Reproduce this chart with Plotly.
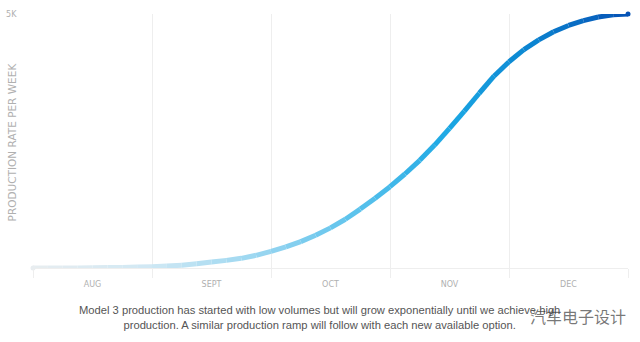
import plotly.graph_objects as go
from plotly.colors import sample_colorscale

# ---- data (months since start of August, weekly production rate) ----
month_pos = [0, 0.125, 0.25, 0.375, 0.5, 0.625, 0.75, 0.875,
             1, 1.125, 1.25, 1.375, 1.5, 1.625, 1.75, 1.875,
             2, 2.125, 2.25, 2.375, 2.5, 2.625, 2.75, 2.875,
             3, 3.125, 3.25, 3.375, 3.5, 3.625, 3.75, 3.875,
             4, 4.125, 4.25, 4.375, 4.5, 4.625, 4.75, 4.875, 5]
rate = [0, 0, 0, 0, 4, 8, 12, 18,
        26, 37, 55, 83, 118, 150, 190, 250,
        329, 415, 520, 645, 790, 960, 1160, 1375,
        1600, 1850, 2120, 2420, 2750, 3090, 3440, 3780,
        4060, 4300, 4490, 4650, 4775, 4870, 4940, 4985, 5000]
month_labels = ["AUG", "SEPT", "OCT", "NOV", "DEC"]
month_centers = [0.5, 1.5, 2.5, 3.5, 4.5]
month_bounds = [0, 1, 2, 3, 4, 5]
y_tick_vals = [5000]
y_tick_text = ["5K"]

caption = ("Model 3 production has started with low volumes but will grow exponentially until we achieve high<br>"
           "production. A similar production ramp will follow with each new available option.")
watermark = "汽车电子设计"

scale = [[0.0, "#e8edf0"], [0.2, "#cfe8f4"], [0.4, "#93d4f0"], [0.55, "#58c1ec"],
         [0.7, "#1ca8e4"], [0.83, "#0b86d2"], [1.0, "#0652b5"]]

xmax = month_pos[-1]

fig = go.Figure()
for i in range(len(month_pos) - 1):
    c = sample_colorscale(scale, [(month_pos[i] + month_pos[i + 1]) / 2 / xmax])[0]
    fig.add_trace(go.Scatter(x=month_pos[i:i + 2], y=rate[i:i + 2], mode="lines",
                             line=dict(color=c, width=5), hoverinfo="skip",
                             showlegend=False, cliponaxis=False))
ends_x = [month_pos[0], month_pos[-1]]
ends_y = [rate[0], rate[-1]]
fig.add_trace(go.Scatter(x=ends_x, y=ends_y, mode="markers",
                         marker=dict(color=sample_colorscale(scale, [0.0, 1.0]), size=5,
                                     line=dict(width=0)),
                         showlegend=False, cliponaxis=False, hoverinfo="skip"))

fig.update_layout(
    width=640, height=342,
    margin=dict(l=33, r=12, t=14, b=74, autoexpand=False),
    paper_bgcolor="white", plot_bgcolor="white",
    font=dict(family="DejaVu Sans", color="#b0b0b0", size=8),
    xaxis=dict(range=[0, 5], tickvals=month_centers, ticktext=month_labels,
               showgrid=False, zeroline=False, showline=False, automargin=False,
               ticks="outside", ticklen=8, tickcolor="rgba(0,0,0,0)",
               tickfont=dict(size=8, color="#b0b0b0", family="DejaVu Sans"),
               minor=dict(tickvals=month_bounds, showgrid=True, gridcolor="#eeeeee",
                          gridwidth=1, ticks="outside", ticklen=9, tickcolor="#eeeeee")),
    yaxis=dict(range=[0, 5000], tickvals=y_tick_vals, ticktext=y_tick_text,
               showgrid=True, gridcolor="#eeeeee", zeroline=True, zerolinecolor="#eeeeee",
               zerolinewidth=1, showline=False, automargin=False,
               ticks="outside", ticklen=14, tickcolor="rgba(0,0,0,0)",
               tickfont=dict(size=8, color="#b0b0b0", family="DejaVu Sans")),
)

fig.add_annotation(text="PRODUCTION RATE PER WEEK", textangle=-90,
                   xref="paper", yref="paper", x=-0.035, y=0.495, xanchor="center",
                   showarrow=False, font=dict(size=10.5, color="#b0b0b0", family="DejaVu Sans"))
fig.add_annotation(text=caption, xref="paper", yref="paper", x=0.482, y=-0.195,
                   showarrow=False, align="center", yanchor="middle", xanchor="center",
                   font=dict(size=11.2, color="#555555", family="Liberation Sans"))
fig.add_annotation(text=watermark, xref="paper", yref="paper", x=0.916, y=-0.189,
                   showarrow=False, yanchor="middle", xanchor="center",
                   font=dict(size=16, color="rgba(60,60,60,0.7)", family="Noto Sans CJK SC"))

fig.write_html("out.html")
